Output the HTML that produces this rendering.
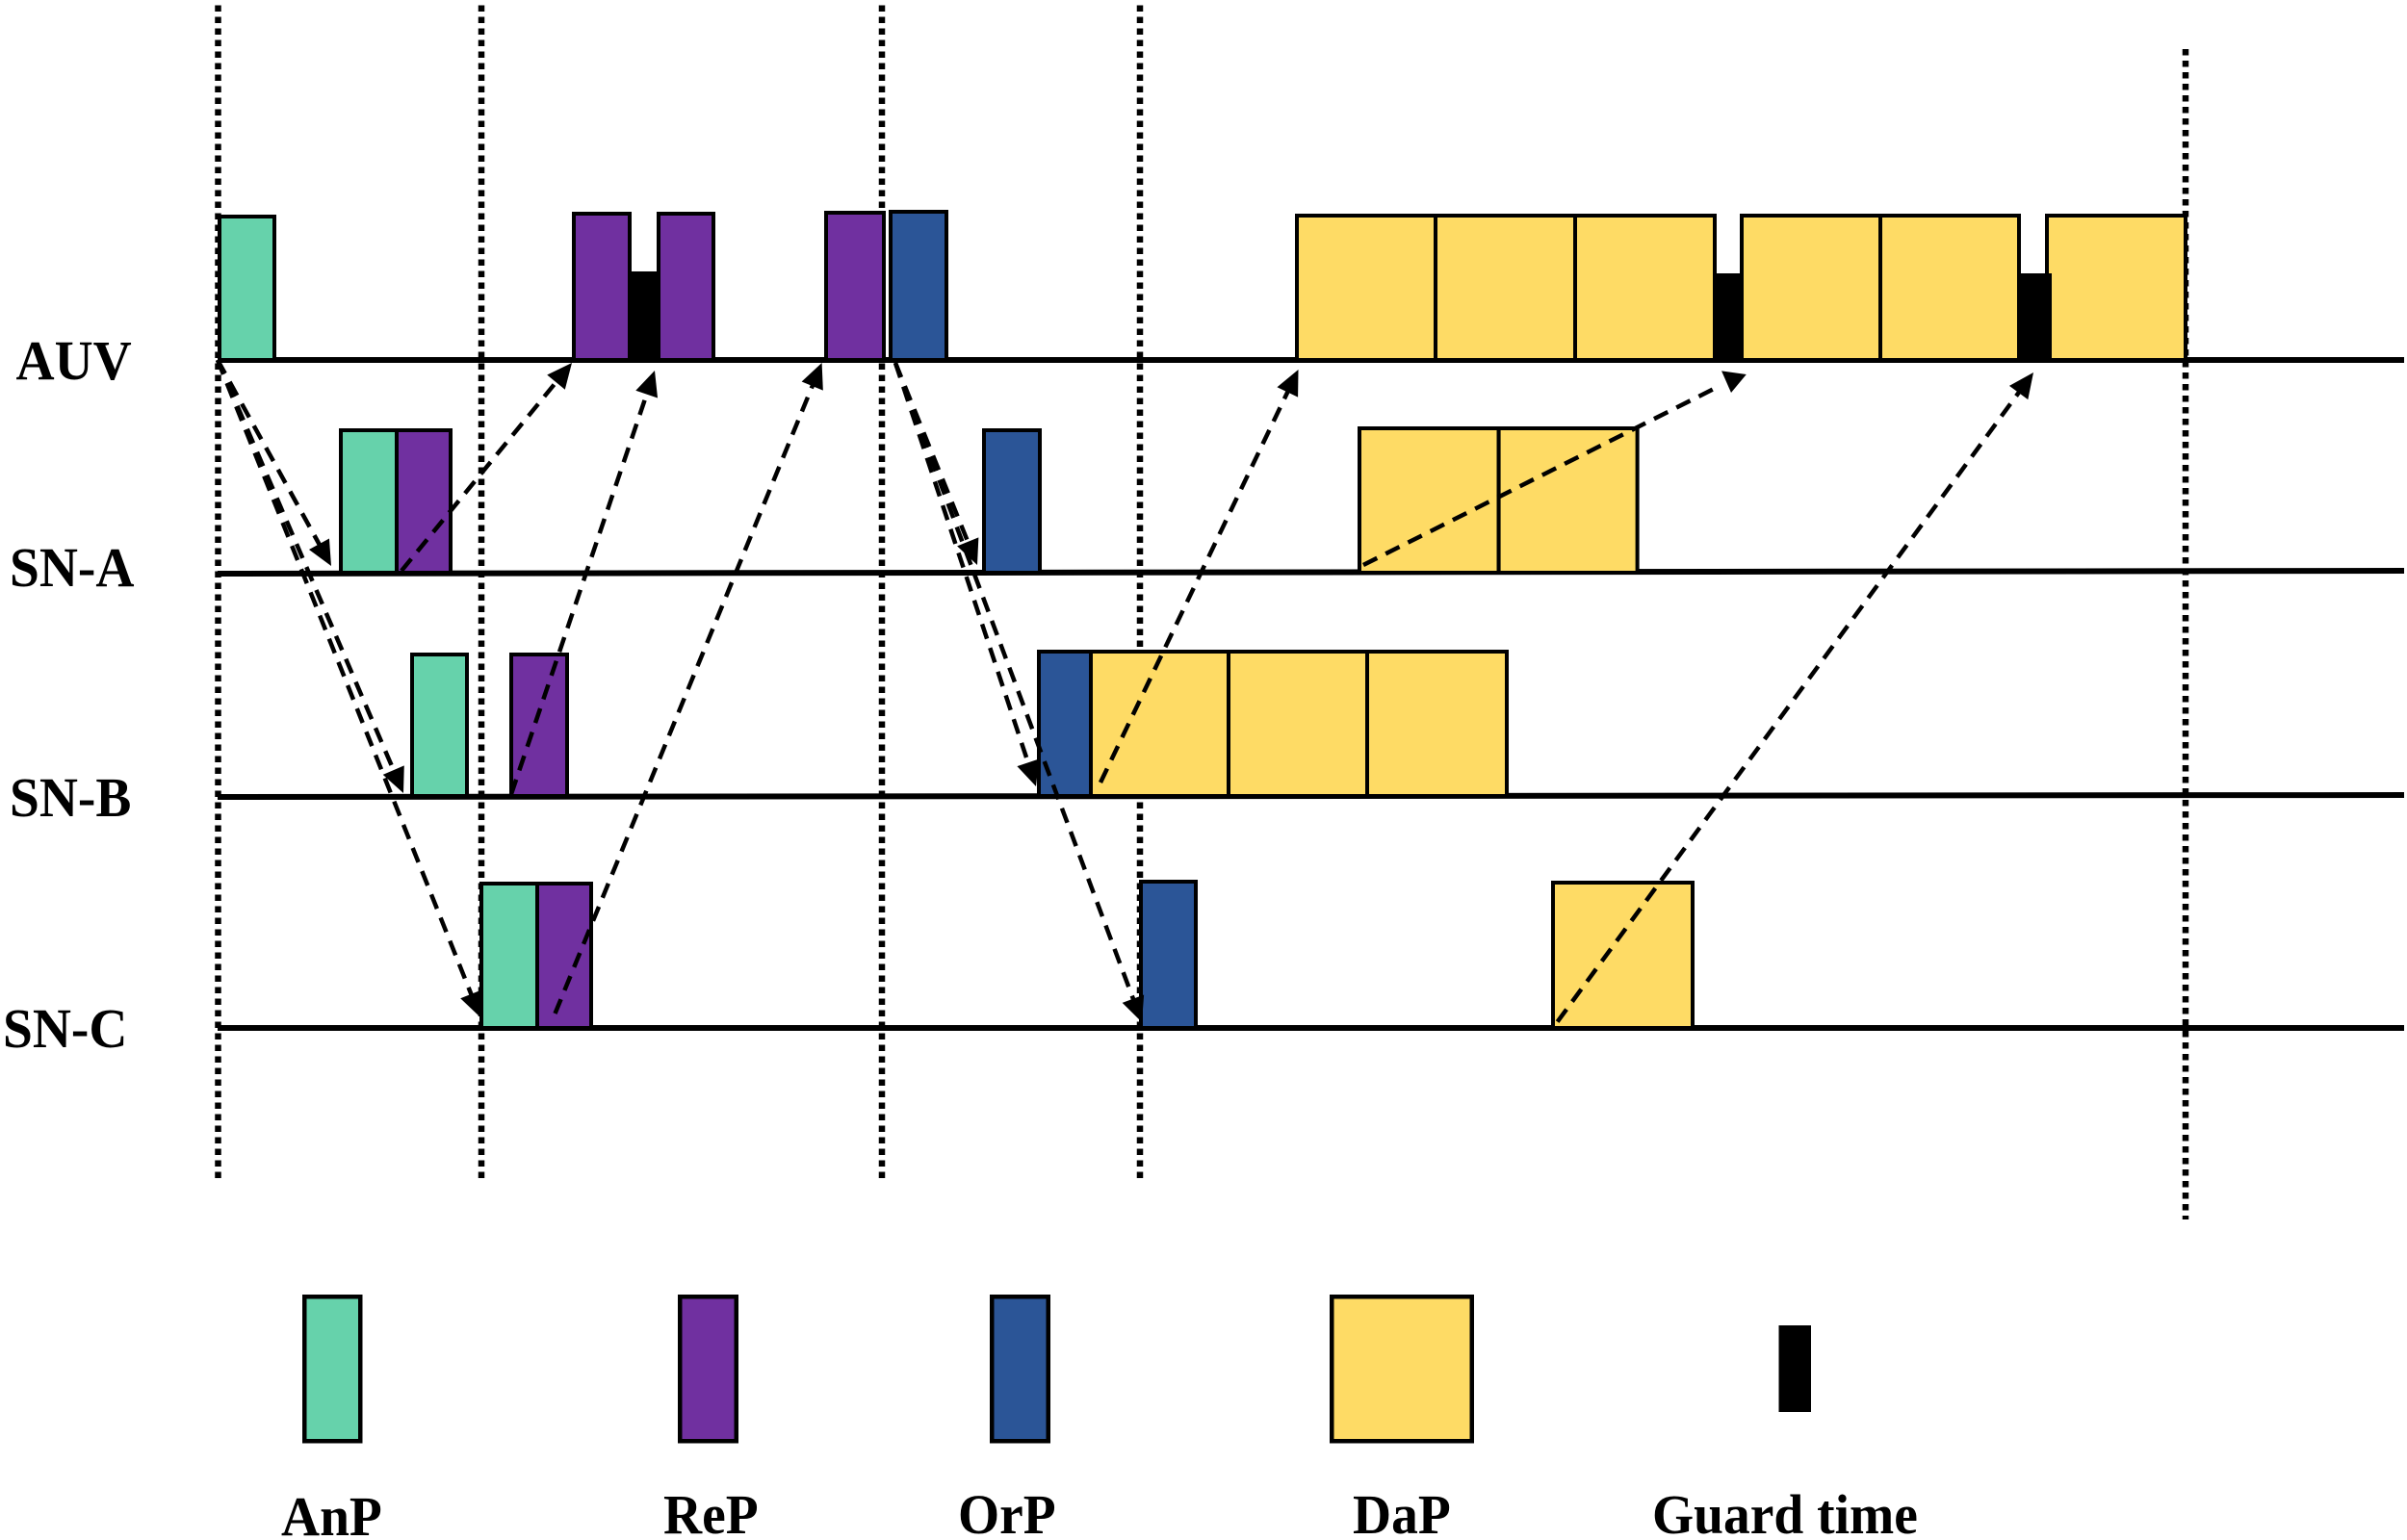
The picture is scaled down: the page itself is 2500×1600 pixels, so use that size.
<!DOCTYPE html>
<html lang="en">
<head>
<meta charset="utf-8">
<title>AUV and sensor node packet timing diagram</title>
<style>
  html, body { margin: 0; padding: 0; background: #ffffff; }
  svg { display: block; }
  text { font-family: "Liberation Serif", serif; font-weight: bold; font-size: 55.5px; fill: #000; }
</style>
</head>
<body>
<svg id="chart" xmlns="http://www.w3.org/2000/svg" width="2500" height="1600" viewBox="0 0 2500 1600">
  <rect x="0" y="0" width="2500" height="1600" fill="#ffffff"/>
  <g id="slots"></g>
  <g id="rows"></g>
  <g id="packets"></g>
  <g id="guards"></g>
  <g id="arrows"></g>

  <g>
    <text transform="translate(16.5 394) scale(1 1.045)">AUV</text>
    <text transform="translate(10 609) scale(1 1.045)">SN-A</text>
    <text transform="translate(10 848) scale(1 1.045)">SN-B</text>
    <text transform="translate(3 1088) scale(1 1.045)">SN-C</text>
  </g>

  <g>
    <rect x="316.25" y="1347.25" width="58" height="150" fill="#66D2AB" stroke="#000" stroke-width="4.5"/>
    <rect x="706.25" y="1347.25" width="58.5" height="150" fill="#7030A0" stroke="#000" stroke-width="4.5"/>
    <rect x="1030.25" y="1347.25" width="58.5" height="150" fill="#2B5597" stroke="#000" stroke-width="4.5"/>
    <rect x="1383.25" y="1347.25" width="145.5" height="150" fill="#FEDB65" stroke="#000" stroke-width="4.5"/>
    <rect x="1847.5" y="1377" width="33.5" height="90" fill="#000"/>
    <text transform="translate(292 1595) scale(1 1.045)">AnP</text>
    <text transform="translate(689 1593) scale(1 1.045)">ReP</text>
    <text transform="translate(995 1593) scale(1 1.045)">OrP</text>
    <text transform="translate(1405 1593) scale(1 1.045)">DaP</text>
    <text transform="translate(1716 1593) scale(1 1.045)">Guard time</text>
  </g>
</svg>

<script>
// Timeline data, in diagram time units and depth units
const rowNames = ['AUV', 'SN-A', 'SN-B', 'SN-C'];
const rowDepth = [0, 110.5, 226.5, 347];
const rowDepthStart = [0, 111, 227, 347];
const rowDepthEnd = [0, 109.5, 226, 347];
const rowEndTime = 1135.5;

const slotTimes = [0.25, 137, 345, 479, 1022];
const slotTopDepth = [-184.25, -184.25, -184.25, -184.25, -161.5];
const slotBottomDepth = [425, 425, 425, 425, 446.5];

const packetTypes = ['AnP', 'ReP', 'OrP', 'DaP'];
const packetColors = ['#66D2AB', '#7030A0', '#2B5597', '#FEDB65'];

const packetRow = [
  0, 0, 0, 0, 0, 0, 0, 0, 0, 0, 0,
  1, 1, 1, 1, 1,
  2, 2, 2, 2, 2, 2,
  3, 3, 3, 3
];
const packetType = [
  0, 1, 1, 1, 2, 3, 3, 3, 3, 3, 3,
  0, 1, 2, 3, 3,
  0, 1, 2, 3, 3, 3,
  0, 1, 2, 3
];
const packetStart = [
  1, 185, 229, 316, 349.5, 560.5, 632.5, 705, 791.5, 863.5, 950,
  64, 93, 398, 593, 665.3,
  101, 152.5, 426.5, 453.5, 525, 597,
  137, 166, 479.5, 693.5
];
const packetDuration = [
  28.5, 29, 28.5, 30, 29, 72, 72.5, 72.5, 72, 72, 72,
  29, 28, 29, 72.3, 72,
  28.5, 29, 27, 71.5, 72, 72.5,
  29, 28, 28.5, 72.5
];
const packetHeight = [
  74.5, 76, 76, 76.5, 77, 75, 75, 75, 75, 75, 75,
  74, 74, 74, 75, 75,
  73.5, 73.5, 75, 75, 75, 75,
  75, 75, 76, 75.5
];

const guardStart = [214.5, 777, 934.5];
const guardDuration = [13.5, 15, 18];
const guardHeight = [46, 45, 45];

const arrowFromTime = [0, 0, 0, 95.5, 152.5, 175.25, 352, 352, 352, 458.5, 595, 695.8];
const arrowFromDepth = [0, 0, 0, 109.5, 225.5, 339.5, 1.5, 1.5, 1.5, 219.5, 106.5, 343.8];
const arrowToTime = [59, 96.5, 136.5, 184, 227, 313.8, 394.5, 425, 480, 561.25, 778, 943];
const arrowToDepth = [107, 225, 341.5, 1.5, 5.5, 1.5, 106.5, 221.5, 344, 5, 14.5, 6.5];

// The head of the SN-A data arrow sits off the line in the original drawing
const skewedHeadIndex = 10;
const skewedHeadTime = 786;
const skewedHeadDepth = 17;
const skewedHeadAngle = 98;

// Axis functions
const UNIT = 2;
const X0 = 226;
const Y0 = 374;
function xAxis(t) { return X0 + t * UNIT; }
function yAxis(d) { return Y0 + d * UNIT; }

const NS = 'http://www.w3.org/2000/svg';
function make(tag, parent) {
  const el = document.createElementNS(NS, tag);
  parent.appendChild(el);
  return el;
}

// Dotted slot boundaries
const slotLayer = document.getElementById('slots');
slotTimes.forEach(function (t, i) {
  const el = make('line', slotLayer);
  
  
  el.setAttribute('x1', xAxis(t));
  el.setAttribute('x2', xAxis(t));
  el.setAttribute('y1', yAxis(slotTopDepth[i]));
  el.setAttribute('y2', yAxis(slotBottomDepth[i]));
  el.setAttribute('stroke', '#000');
  el.setAttribute('stroke-width', '6.5');
  el.setAttribute('stroke-dasharray', '6.5 5.5');
});

// Node timelines
const rowLayer = document.getElementById('rows');
rowNames.forEach(function (name, i) {
  const el = make('line', rowLayer);
  
  
  el.setAttribute('x1', xAxis(0));
  el.setAttribute('x2', xAxis(rowEndTime));
  el.setAttribute('y1', yAxis(rowDepthStart[i]));
  el.setAttribute('y2', yAxis(rowDepthEnd[i]));
  el.setAttribute('stroke', '#000');
  el.setAttribute('stroke-width', '6');
});

// Packets
const packetLayer = document.getElementById('packets');
packetStart.forEach(function (t, i) {
  const type = packetType[i];
  const base = yAxis(rowDepth[packetRow[i]]);
  const top = base - packetHeight[i] * UNIT;
  const el = make('rect', packetLayer);
  
  
  el.setAttribute('x', xAxis(t));
  el.setAttribute('y', top);
  el.setAttribute('width', packetDuration[i] * UNIT);
  el.setAttribute('height', base - top);
  el.setAttribute('fill', packetColors[type]);
  el.setAttribute('stroke', '#000');
  el.setAttribute('stroke-width', '4');
});

// Guard intervals
const guardLayer = document.getElementById('guards');
guardStart.forEach(function (t, i) {
  const el = make('rect', guardLayer);
  
  
  el.setAttribute('x', xAxis(t));
  el.setAttribute('y', yAxis(0) - guardHeight[i] * UNIT);
  el.setAttribute('width', guardDuration[i] * UNIT);
  el.setAttribute('height', guardHeight[i] * UNIT);
  el.setAttribute('fill', '#000');
});

// Dashed propagation arrows
const arrowLayer = document.getElementById('arrows');
const HEAD_LENGTH = 26;
const HEAD_HALF = 12;
arrowFromTime.forEach(function (t, i) {
  const x1 = xAxis(t);
  const y1 = yAxis(arrowFromDepth[i]);
  const x2 = xAxis(arrowToTime[i]);
  const y2 = yAxis(arrowToDepth[i]);
  const len = Math.hypot(x2 - x1, y2 - y1);
  const ux = (x2 - x1) / len;
  const uy = (y2 - y1) / len;
  const skewed = i === skewedHeadIndex;
  const lineEndX = skewed ? x2 : x2 - ux * HEAD_LENGTH * 0.9;
  const lineEndY = skewed ? y2 : y2 - uy * HEAD_LENGTH * 0.9;

  const line = make('line', arrowLayer);
  
  
  line.setAttribute('x1', x1);
  line.setAttribute('y1', y1);
  line.setAttribute('x2', lineEndX);
  line.setAttribute('y2', lineEndY);
  line.setAttribute('stroke', '#000');
  line.setAttribute('stroke-width', '4.5');
  line.setAttribute('stroke-dasharray', '16 10');

  const tipX = skewed ? xAxis(skewedHeadTime) : x2;
  const tipY = skewed ? yAxis(skewedHeadDepth) : y2;
  const angle = skewedHeadAngle * Math.PI / 180;
  const hx = skewed ? Math.cos(angle) : ux;
  const hy = skewed ? Math.sin(angle) : uy;
  const headLen = skewed ? 21 : HEAD_LENGTH;
  const headHalf = skewed ? 13 : HEAD_HALF;
  const bx = tipX - hx * headLen;
  const by = tipY - hy * headLen;
  const head = make('polygon', arrowLayer);
  
  
  head.setAttribute('points',
    tipX + ',' + tipY + ' ' +
    (bx - hy * headHalf) + ',' + (by + hx * headHalf) + ' ' +
    (bx + hy * headHalf) + ',' + (by - hx * headHalf));
  head.setAttribute('fill', '#000');
});
</script>
</body>
</html>
